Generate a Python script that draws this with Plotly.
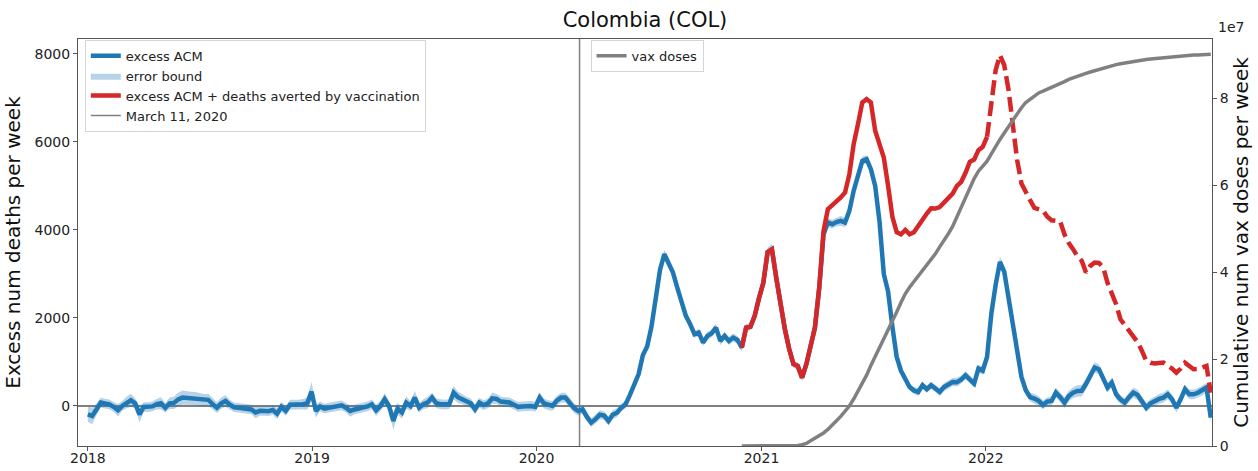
import pandas as pd
import plotly.graph_objects as go

# ---------------- data ----------------
start_date = "2018-01-01"          # first weekly point
march11 = "2020-03-11"
red_start_week = 152                # index where the "averted" series begins
dash_from_week = 209                # index from which the averted series is dashed
vax_start_week = 152

excess_2018 = [-190, -227, -80, 76, 55, 38, -20, -98, 0, 80,
               129, 60, -190, -23, -25, -10, 40, 60, -40, 60,
               70, 150, 190, 180, 175, 165, 150, 130, 140, 40,
               -38, 60, 114, 30, -30, -40, -50, -60, -80, -150,
               -110, -115, -120, -90, -174, -20, -110, 30, 30, 30,
               40, 60]
excess_2019 = [326, -114, -10, -60, -38, -20, 0, 15, -40, -114,
               -80, -60, -38, -10, 38, -98, 0, 152, 0, -341,
               -60, -150, 76, 0, 190, -38, 40, 80, 190, 60,
               40, 30, 40, 303, 200, 152, 100, 60, -76, 76,
               20, 60, 174, 160, 100, 90, 80, 30, -20, -10,
               0, 0]
excess_2020 = [-20, 190, 60, 20, 0, 120, 190, 190, 76, -50,
               -114, -76, -250, -379, -300, -200, -220, -341, -200, -152,
               -38, 38, 250, 500, 720, 1150, 1350, 1800, 2500, 3100,
               3449, 3260, 3032, 2690, 2350, 2047, 1857, 1630, 1668, 1440,
               1592, 1650, 1781, 1478, 1592, 1478, 1554, 1500, 1326, 1781,
               1800, 2050]
excess_2021 = [2450, 2800, 3500, 3563, 2918, 2300, 1750, 1300, 950, 910,
               644, 950, 1400, 1781, 2691, 3900, 4169, 4131, 4180, 4207,
               4169, 4434, 4889, 5268, 5571, 5609, 5382, 5000, 4200, 3000,
               2600, 1800, 1114, 800, 600, 432, 350, 318, 470, 380,
               470, 400, 318, 432, 480, 546, 540, 600, 697, 600,
               508, 849]
excess_2022 = [800, 1114, 2100, 2750, 3275, 3050, 2450, 1700, 1190, 659,
               356, 200, 167, 114, 23, 100, 114, 303, 200, 76,
               227, 303, 341, 345, 500, 682, 872, 834, 644, 417,
               531, 265, 150, 76, 200, 303, 250, 114, -38, 60,
               114, 160, 190, 265, 152, -38, 152, 379, 265, 265,
               300, 350, 420, -265]

err_2018 = [170, 190, 130, 110, 110, 110, 110, 140, 110, 130,
            150, 110, 180, 110, 110, 110, 120, 140, 110, 130,
            140, 150, 160, 150, 150, 150, 150, 140, 140, 130,
            120, 130, 130, 110, 110, 110, 110, 110, 110, 130,
            110, 110, 110, 110, 130, 110, 110, 110, 110, 110,
            120, 140]
err_2019 = [220, 150, 110, 110, 110, 110, 110, 110, 110, 130,
            110, 110, 110, 110, 110, 130, 110, 140, 110, 200,
            130, 140, 140, 110, 150, 110, 110, 130, 110, 110,
            110, 110, 110, 150, 130, 110, 110, 110, 110, 110,
            110, 110, 130, 110, 110, 110, 110, 110, 110, 110,
            110, 110]
err_2020 = [110, 130, 110, 110, 110, 110, 110, 110, 110, 110,
            100, 100, 100, 100, 100, 100, 100, 100, 100, 100,
            90, 90, 80, 80, 80, 80, 80, 80, 80, 90,
            100, 90, 90, 90, 90, 90, 80, 80, 80, 80,
            90, 90, 90, 90, 90, 90, 90, 90, 80, 80,
            80, 80]
err_2021 = [80, 80, 100, 120, 100, 80, 80, 80, 80, 80,
            80, 80, 80, 80, 80, 90, 100, 100, 100, 110,
            110, 110, 110, 110, 100, 90, 80, 80, 80, 80,
            80, 80, 80, 80, 80, 80, 80, 90, 80, 80,
            80, 80, 90, 90, 90, 90, 100, 90, 90, 90,
            90, 90]
err_2022 = [90, 90, 100, 110, 120, 100, 90, 90, 80, 80,
            90, 100, 110, 110, 100, 100, 100, 110, 110, 120,
            120, 120, 130, 130, 130, 120, 120, 110, 110, 110,
            110, 110, 100, 100, 110, 110, 120, 110, 100, 100,
            100, 110, 110, 110, 110, 110, 110, 110, 110, 110,
            110, 110, 110, 110]

# excess ACM + deaths averted by vaccination (from week 152)
averted_total = [1326, 1781, 1800, 2050, 2450, 2800, 3500, 3563, 2918, 2300,
                 1750, 1300, 950, 910, 644, 950, 1400, 1781, 2691, 3980,
                 4472, 4548, 4650, 4738, 4851, 5268, 5950, 6405, 6898, 6974,
                 6898, 6254, 5950, 5647, 5000, 4300, 3950, 3900, 4000, 3900,
                 3950, 4100, 4250, 4374, 4490, 4487, 4520, 4620, 4753, 4828,
                 5000, 5094, 5300, 5550, 5600, 5814, 5890, 6117, 6799, 7633,
                 7974, 7747, 7178, 6420, 5587, 5056, 4850, 4677, 4500, 4472,
                 4440, 4300, 4220, 4207, 4192, 3900, 3700, 3563, 3400, 3300,
                 3032, 3184, 3260, 3250, 3146, 2800, 2550, 2312, 1971, 1850,
                 1706, 1592, 1450, 1251, 1023, 980, 963, 975, 985, 910,
                 850, 758, 850, 985, 900, 834, 840, 880, 910, 300]

# cumulative vaccine doses (units of 1e7), from week 152
vax_e7 = [0, 0, 0, 0, 0, 0, 0, 0, 0, 0, 0, 0, 0,
          0.01, 0.03, 0.06, 0.12, 0.18, 0.23, 0.30, 0.38, 0.47, 0.58,
          0.68, 0.80, 0.92, 1.08, 1.25, 1.45, 1.63, 1.85, 2.05, 2.25,
          2.45, 2.65, 2.85, 3.08, 3.30, 3.50, 3.65, 3.78, 3.90, 4.02,
          4.15, 4.28, 4.42, 4.58, 4.72, 4.88, 5.05, 5.28, 5.50, 5.72,
          5.95, 6.15, 6.32, 6.45, 6.55, 6.72, 6.90, 7.05, 7.20, 7.35,
          7.50, 7.65, 7.78, 7.90, 7.98, 8.06, 8.12, 8.16, 8.20, 8.25,
          8.30, 8.34, 8.38, 8.43, 8.47, 8.51, 8.54, 8.57, 8.60, 8.63,
          8.66, 8.69, 8.71, 8.74, 8.77, 8.79, 8.81, 8.82, 8.84, 8.85,
          8.87, 8.89, 8.90, 8.91, 8.93, 8.94, 8.95, 8.96, 8.97, 8.97,
          8.98, 8.98, 8.99, 8.99, 9.00, 9.00, 9.01]

left_ticks = [0, 2000, 4000, 6000, 8000]
right_ticks_e7 = [0, 2, 4, 6, 8]
year_ticks = ["2018-01-01", "2019-01-01", "2020-01-01", "2021-01-01", "2022-01-01"]

# ---------------- assemble ----------------
excess = excess_2018 + excess_2019 + excess_2020 + excess_2021 + excess_2022
err = err_2018 + err_2019 + err_2020 + err_2021 + err_2022
dates = pd.date_range(start_date, periods=len(excess), freq="7D")
lower = [v - e for v, e in zip(excess, err)]
upper = [v + e for v, e in zip(excess, err)]

red_dates = dates[red_start_week:red_start_week + len(averted_total)]
k = dash_from_week - red_start_week
vax_dates = dates[vax_start_week:vax_start_week + len(vax_e7)]
vax = [v * 1e7 for v in vax_e7]

BLUE = "#1f77b4"
RED = "#d62728"
GRAY = "#808080"
FONT = "DejaVu Sans"

fig = go.Figure()
fig.add_trace(go.Scatter(x=dates, y=lower, mode="lines", line=dict(width=0),
                         showlegend=False, hoverinfo="skip"))
fig.add_trace(go.Scatter(x=dates, y=upper, mode="lines", line=dict(width=0),
                         fill="tonexty", fillcolor="rgba(31,119,180,0.32)",
                         name="error bound", legendrank=2))
fig.add_trace(go.Scatter(x=dates, y=excess, mode="lines",
                         line=dict(color=BLUE, width=4.5),
                         name="excess ACM", legendrank=1))
fig.add_trace(go.Scatter(x=red_dates[:k + 1], y=averted_total[:k + 1], mode="lines",
                         line=dict(color=RED, width=4.5),
                         name="excess ACM + deaths averted by vaccination", legendrank=3))
fig.add_trace(go.Scatter(x=red_dates[k:], y=averted_total[k:], mode="lines",
                         line=dict(color=RED, width=4.5, dash="15px,6px"),
                         showlegend=False))
fig.add_trace(go.Scatter(x=vax_dates, y=vax, mode="lines", yaxis="y2",
                         line=dict(color=GRAY, width=3.5),
                         name="vax doses", legend="legend2"))

fig.add_shape(type="line", xref="x", yref="paper", x0=march11, x1=march11, y0=0, y1=1,
              line=dict(color=GRAY, width=1.5), layer="below",
              showlegend=True, name="March 11, 2020", legendrank=4)

axis_common = dict(showline=True, linecolor="#555", linewidth=1, ticks="outside",
                   ticklen=4, tickcolor="#555", automargin=False,
                   tickfont=dict(size=14, color="#222", family=FONT))

fig.update_layout(
    width=1258, height=471,
    margin=dict(l=78, r=46, t=39, b=25),
    paper_bgcolor="white", plot_bgcolor="white",
    font=dict(family=FONT, color="#222"),
    title=dict(text="Colombia (COL)", x=0.5, xref="paper", y=1 - 20 / 471,
               yref="container", xanchor="center", yanchor="middle",
               font=dict(size=21, color="#111", family=FONT)),
    xaxis=dict(type="date", range=["2017-12-16", "2023-01-04"], tickvals=year_ticks,
               tickformat="%Y", showgrid=False, zeroline=False, mirror=True,
               ticklabelstandoff=-5, **axis_common),
    yaxis=dict(range=[-910, 8340], tickvals=left_ticks, tickformat="d", showgrid=False,
               zeroline=True, zerolinecolor=GRAY, zerolinewidth=1.5, mirror=True,
               title=dict(text="Excess num deaths per week", font=dict(size=20, color="#111"),
                          standoff=8),
               **axis_common),
    yaxis2=dict(overlaying="y", side="right", range=[0, 9.36e7],
                tickvals=[t * 1e7 for t in right_ticks_e7],
                ticktext=[str(t) for t in right_ticks_e7], showgrid=False, zeroline=False,
                title=dict(text="Cumulative num vax doses per week",
                           font=dict(size=20, color="#111"), standoff=4),
                **axis_common),
    legend=dict(x=0.006, y=0.998, xanchor="left", yanchor="top",
                bgcolor="rgba(255,255,255,0.85)", bordercolor="#d5d5d5", borderwidth=1,
                font=dict(size=13, family=FONT, color="#222"), itemwidth=30,
                traceorder="normal"),
    legend2=dict(x=0.452, y=0.998, xanchor="left", yanchor="top",
                 bgcolor="rgba(255,255,255,0.85)", bordercolor="#d5d5d5", borderwidth=1,
                 font=dict(size=13, family=FONT, color="#222"), itemwidth=30),
    showlegend=True,
)
fig.add_annotation(text="1e7", xref="paper", yref="paper", x=1.0, y=1.0,
                   xanchor="left", yanchor="bottom", xshift=4, yshift=2, showarrow=False,
                   font=dict(size=14, color="#222", family=FONT))

fig.write_html("out.html", post_script="document.body.style.margin='0';",
               config={"displayModeBar": False})
